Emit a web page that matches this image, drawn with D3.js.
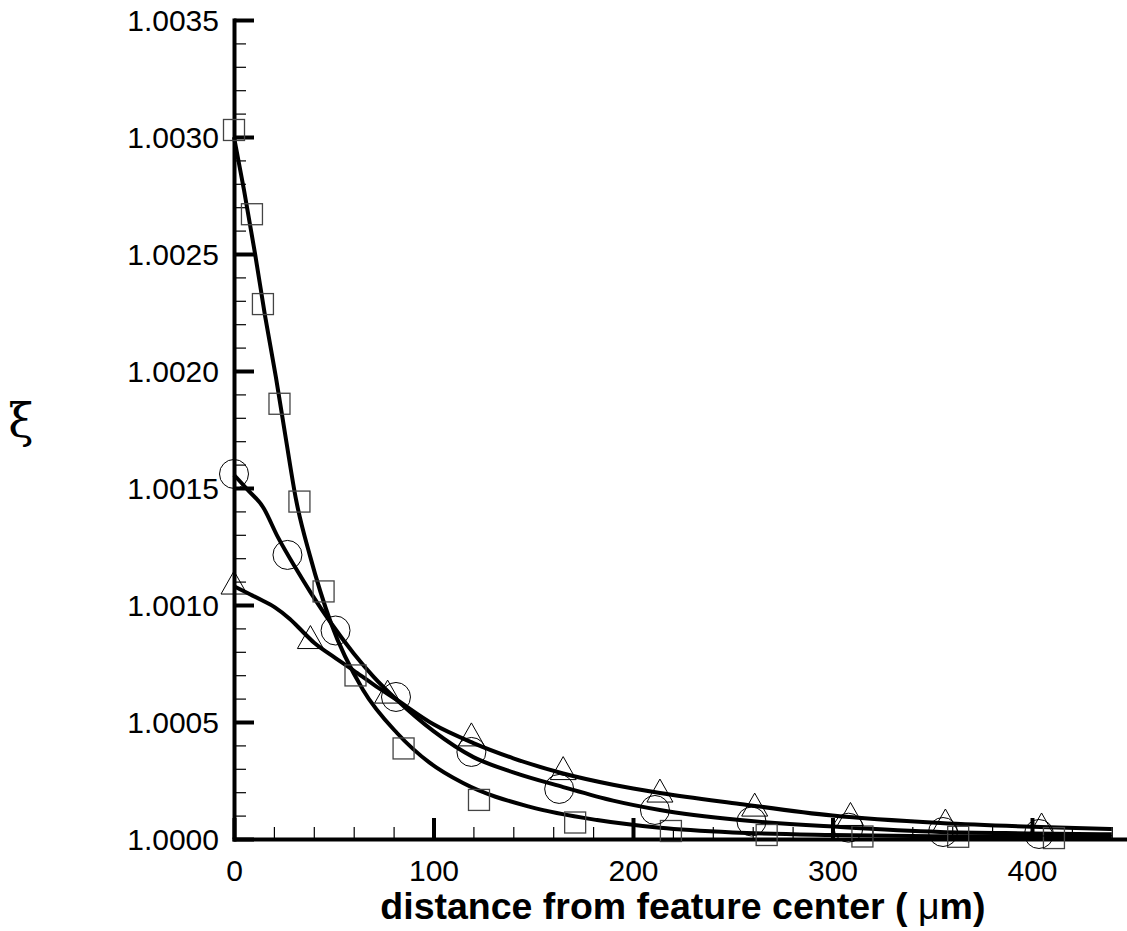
<!DOCTYPE html>
<html>
<head>
<meta charset="utf-8">
<script src="https://cdn.jsdelivr.net/npm/d3@7"></script>
<style>
	body { margin: 0; background: #fff; }
	svg { display: block; }
	text { font-family: "Liberation Sans", Arial, sans-serif; fill: #000; }
</style>
</head>
<body>
<svg width="1127" height="931"></svg>
<script>
// tick values
var xTicks = [0, 100, 200, 300, 400];
var yTicks = [1.0000, 1.0005, 1.0010, 1.0015, 1.0020, 1.0025, 1.0030, 1.0035];

// symbols (simulation points)
var sqX = [0, 9, 14.5, 22.8, 32.8, 44.9, 60.9, 85, 122.8, 171, 219, 267, 315, 363, 411];
var sqY = [1.00303, 1.00267, 1.002286, 1.00186, 1.001442, 1.001058, 1.000699, 1.000387, 1.000167,
	1.0000705, 1.0000342, 1.0000171, 1.0000107, 1.0000094, 1.000004];

var ciX = [0, 26.8, 50.9, 81.2, 119, 163, 211, 259.4, 308, 355.4, 403.5];
var ciY = [1.00156, 1.001214, 1.000891, 1.000607, 1.000372, 1.000214, 1.000124, 1.0000748,
	1.0000483, 1.0000299, 1.0000214];

var trX = [0, 38.3, 77, 119, 165, 213.5, 261, 309, 356.6, 404.8];
var trY = [1.001096, 1.000863, 1.00063, 1.000447, 1.000303, 1.000207, 1.000147, 1.000107,
	1.000079, 1.000062];

// model curves
var sqLineX = [0, 5, 10.5, 15.5, 21, 26.1, 31.1, 38.1, 48.6, 64.7, 81.7, 98.2, 114.8, 148.4,
	182, 213.5, 250, 300, 350, 400, 440];
var sqLineY = [1.00300, 1.002774, 1.002504, 1.002239, 1.001974, 1.001705, 1.00145, 1.00121,
	1.000923, 1.000637, 1.000453, 1.000325, 1.000239, 1.000137, 1.000081, 1.000048, 1.000028,
	1.000017, 1.000012, 1.00001, 1.0000085];

var ciLineX = [0, 7, 14.5, 22, 30.6, 38.6, 48.6, 60, 70, 81.7, 100, 120, 140, 165, 190, 213.5,
	253.6, 304, 354, 400, 440];
var ciLineY = [1.001556, 1.001491, 1.001419, 1.00129, 1.001162, 1.001051, 1.000923, 1.000793,
	1.000693, 1.000594, 1.000461, 1.00035, 1.000285, 1.000222, 1.000164, 1.000124, 1.000081,
	1.000051, 1.00003, 1.000024, 1.00002];

var trLineX = [0, 7, 14, 20.5, 28, 34, 40, 48, 60, 70, 81.7, 100, 120, 140, 165, 190, 213.5,
	253.6, 300, 354, 400, 440];
var trLineY = [1.00108, 1.00105, 1.00102, 1.00099, 1.00094, 1.00089, 1.00084, 1.00079, 1.00072,
	1.00066, 1.000594, 1.00049, 1.00041, 1.000345, 1.00028, 1.000232, 1.000197, 1.00015, 1.0001,
	1.000068, 1.000052, 1.000043];

function zip(xs, ys) {
	return xs.map(function(d, i) { return {x: d, y: ys[i]}; });
}

var svg = d3.select("svg");

var x = d3.scaleLinear().domain([0, 450]).range([234, 234 + 450 * 1.995]);
var y = d3.scaleLinear().domain([1.0000, 1.0035]).range([839, 20]);

var fmtY = d3.format(".4f");

// minor ticks
var yMinor = d3.range(0, 36).map(function(i) { return 1 + i * 0.0001; });
var xMinor = d3.range(0, 23).map(function(i) { return i * 20; });

svg.append("g")
	.attr("transform", "translate(" + x(0) + ",0)")
	.call(d3.axisLeft(y).tickValues(yMinor).tickSizeInner(-12).tickSizeOuter(0).tickFormat(""))
	.call(function(g) { g.select(".domain").remove(); })
	.selectAll("line").attr("stroke-width", 1.2);

svg.append("g")
	.attr("transform", "translate(0," + y(1) + ")")
	.call(d3.axisBottom(x).tickValues(xMinor).tickSizeInner(-12).tickSizeOuter(0).tickFormat(""))
	.call(function(g) { g.select(".domain").remove(); })
	.selectAll("line").attr("stroke-width", 1.2);

// major axes
var yAxis = svg.append("g")
	.attr("transform", "translate(" + x(0) + ",0)")
	.call(d3.axisLeft(y).tickValues(yTicks).tickSizeInner(-20).tickSizeOuter(0)
		.tickPadding(15).tickFormat(fmtY));

var xAxis = svg.append("g")
	.attr("transform", "translate(0," + y(1) + ")")
	.call(d3.axisBottom(x).tickValues(xTicks).tickSizeInner(-21).tickSizeOuter(0)
		.tickPadding(22).tickFormat(d3.format("d")));

[yAxis, xAxis].forEach(function(g) {
	g.attr("font-family", null).attr("font-size", null);
	g.select(".domain").attr("stroke-width", 4).attr("stroke-linecap", "square");
	g.selectAll(".tick line").attr("stroke-width", 4);
	g.selectAll(".tick text").style("font-size", "30px");
});
yAxis.selectAll(".tick text").attr("dy", "0.36em");
xAxis.selectAll(".tick text").attr("dy", "0.68em");

// curves
var line = d3.line()
	.x(function(d) { return x(d.x); })
	.y(function(d) { return y(d.y); })
	.curve(d3.curveMonotoneX);

svg.append("g")
	.attr("class", "curves")
	.selectAll("path")
	.data([zip(sqLineX, sqLineY), zip(ciLineX, ciLineY), zip(trLineX, trLineY)])
	.enter().append("path")
	.attr("d", line)
	.attr("fill", "none")
	.attr("stroke", "#000")
	.attr("stroke-width", 4);

// symbols
var sym = svg.append("g").attr("class", "symbols");

sym.selectAll("rect")
	.data(zip(sqX, sqY))
	.enter().append("rect")
	.attr("x", function(d) { return x(d.x) - 10.5; })
	.attr("y", function(d) { return y(d.y) - 10.5; })
	.attr("width", 21)
	.attr("height", 21)
	.attr("fill", "none")
	.attr("stroke", "#444")
	.attr("stroke-width", 1.3);

sym.selectAll("circle")
	.data(zip(ciX, ciY))
	.enter().append("circle")
	.attr("cx", function(d) { return x(d.x); })
	.attr("cy", function(d) { return y(d.y); })
	.attr("r", 14.5)
	.attr("fill", "none")
	.attr("stroke", "#000")
	.attr("stroke-width", 1);

sym.selectAll("path")
	.data(zip(trX, trY))
	.enter().append("path")
	.attr("transform", function(d) { return "translate(" + x(d.x) + "," + y(d.y) + ")"; })
	.attr("d", "M0,-11.5L13,11.5L-13,11.5Z")
	.attr("fill", "none")
	.attr("stroke", "#000")
	.attr("stroke-width", 1);

// axis titles
var xt = svg.append("text")
	.attr("x", (x.range()[0] + x.range()[1]) / 2)
	.attr("y", 919)
	.attr("text-anchor", "middle")
	.style("font-size", "37.5px")
	.style("font-weight", "bold");
xt.append("tspan").text("distance from feature center ( ");
xt.append("tspan").style("font-weight", "normal").text("\u03bc");
xt.append("tspan").text("m)");

svg.append("text")
	.attr("x", 21)
	.attr("y", 437)
	.attr("text-anchor", "middle")
	.style("font-family", "'DejaVu Serif', serif")
	.style("font-size", "46px")
	.text("\u03be");
</script>
</body>
</html>
